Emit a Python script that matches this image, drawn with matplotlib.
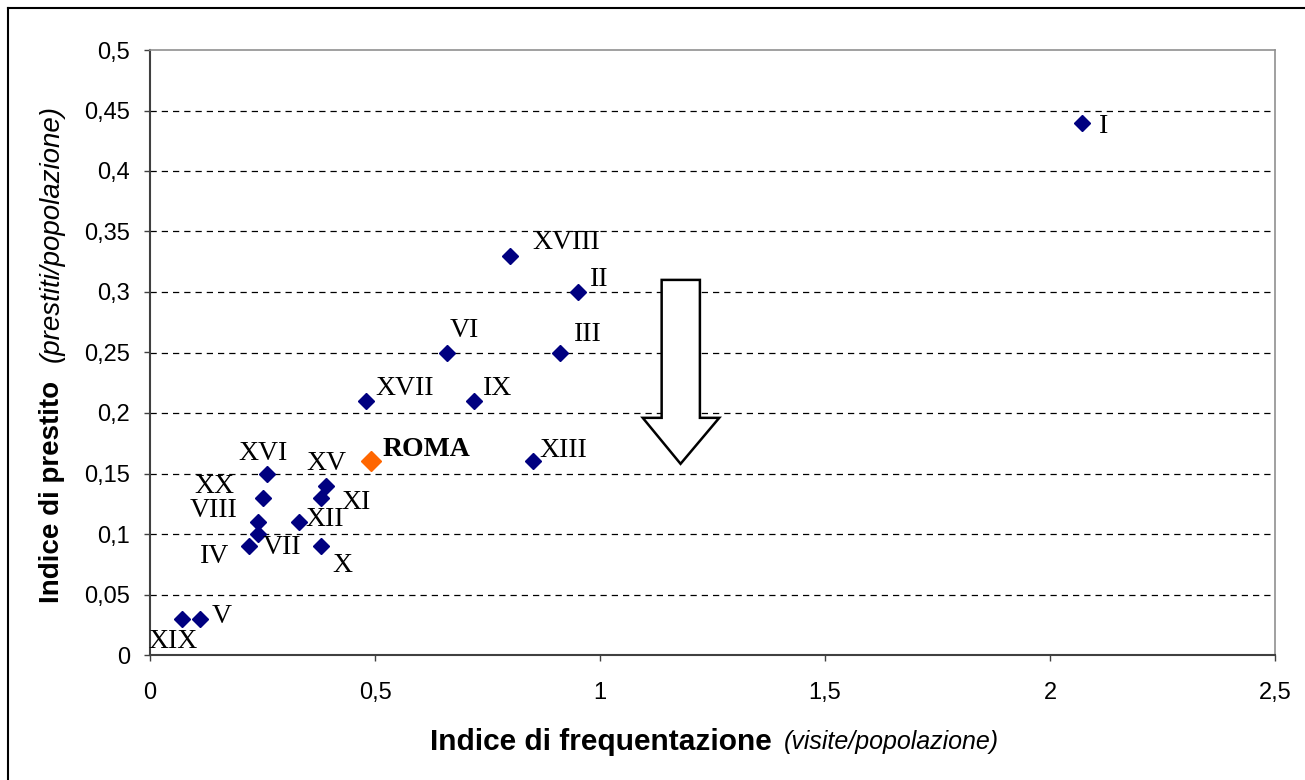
import matplotlib
matplotlib.use("Agg")
import matplotlib.pyplot as plt
from matplotlib.patches import Polygon
from matplotlib.lines import Line2D
from matplotlib.ticker import FuncFormatter, MultipleLocator

# --- Municipi di Roma: indice di frequentazione vs indice di prestito
labels = ["I", "II", "III", "IV", "V", "VI", "VII", "VIII", "IX", "X",
          "XI", "XII", "XIII", "XV", "XVI", "XVII", "XVIII", "XIX", "XX"]
frequentazione = [2.07, 0.95, 0.91, 0.22, 0.11, 0.66, 0.24, 0.24, 0.72, 0.38,
                  0.38, 0.33, 0.85, 0.39, 0.26, 0.48, 0.80, 0.07, 0.25]
prestito = [0.44, 0.30, 0.25, 0.09, 0.03, 0.25, 0.10, 0.11, 0.21, 0.09,
            0.13, 0.11, 0.16, 0.14, 0.15, 0.21, 0.33, 0.03, 0.13]
roma_x, roma_y = 0.49, 0.16

# label offsets in pixels (dx, dy) relative to the point
offsets = {"I": (22, -4), "II": (22, 13), "III": (28, 18), "IV": (-34, -10),
           "V": (22, 2), "VI": (17, 22), "VII": (24, -13), "VIII": (-44, 11),
           "IX": (24, 12), "X": (21, -19), "XI": (35, -5), "XII": (26, 2),
           "XIII": (31, 11), "XV": (1, 22), "XVI": (-4, 20), "XVII": (39, 12),
           "XVIII": (56, 13), "XIX": (-8, -23), "XX": (-48, 11)}

# block arrow outline (data units)
arrow_xy = [(1.137, 0.31), (1.222, 0.31), (1.222, 0.196), (1.265, 0.196),
            (1.179, 0.158), (1.095, 0.196), (1.137, 0.196)]

fig = plt.figure(figsize=(13.05, 7.8), dpi=100)
ax = fig.add_axes([150 / 1305, 125 / 780, 1125 / 1305, 605 / 780])

ax.set_xlim(0, 2.5)
ax.set_ylim(0, 0.5)
ax.xaxis.set_major_locator(MultipleLocator(0.5))
ax.yaxis.set_major_locator(MultipleLocator(0.05))
fmt = FuncFormatter(lambda v, p: f"{round(v, 2):g}".replace(".", ","))
ax.xaxis.set_major_formatter(fmt)
ax.yaxis.set_major_formatter(fmt)
ax.tick_params(axis="both", direction="out", length=4.5, width=1,
               color="#404040", labelsize=17)
ax.tick_params(axis="x", pad=15)
ax.tick_params(axis="y", pad=10)
for lab in ax.get_xticklabels() + ax.get_yticklabels():
    lab.set_fontfamily("Liberation Sans")

for y in [0.05 * i for i in range(1, 10)]:
    ax.axhline(y, color="black", lw=0.9, ls=(0, (5, 4)), zorder=0)

for s in ["left", "bottom"]:
    ax.spines[s].set_color("#404040")
    ax.spines[s].set_linewidth(1.5)
for s in ["top", "right"]:
    ax.spines[s].set_color("#909090")
    ax.spines[s].set_linewidth(1.2)

ax.add_patch(Polygon(arrow_xy, closed=True, facecolor="white",
                     edgecolor="black", lw=1.8, zorder=2))

ax.plot(frequentazione, prestito, ls="none", marker="D", ms=8.5,
        color="#000080", zorder=3)
ax.plot([roma_x], [roma_y], ls="none", marker="D", ms=10.5,
        color="#FF6600", zorder=3)

for lab, x, y in zip(labels, frequentazione, prestito):
    dx, dy = offsets[lab]
    ax.annotate(lab, (x, y), xytext=(dx, dy), textcoords="offset pixels",
                ha="center", va="center", fontsize=20,
                fontfamily="Liberation Serif", zorder=4)
ax.annotate("ROMA", (roma_x, roma_y), xytext=(56, 12),
            textcoords="offset pixels", ha="center", va="center",
            fontsize=20, fontweight="bold", fontfamily="Liberation Serif",
            zorder=4)

# axis titles: bold part + italic part
fig.text(430 / 1305, 1 - 742 / 780, "Indice di frequentazione", fontsize=21.5,
         fontweight="bold", fontfamily="Liberation Sans", ha="left", va="center")
fig.text(784 / 1305, 1 - 742 / 780, "(visite/popolazione)", fontsize=18,
         fontstyle="italic", fontfamily="Liberation Sans", ha="left", va="center")
fig.text(52 / 1305, 1 - 603 / 780, "Indice di prestito", fontsize=20,
         fontweight="bold", fontfamily="Liberation Sans", rotation=90,
         rotation_mode="anchor", ha="left", va="center")
fig.text(52 / 1305, 1 - 362 / 780, "(prestiti/popolazione)", fontsize=20,
         fontstyle="italic", fontfamily="Liberation Sans", rotation=90,
         rotation_mode="anchor", ha="left", va="center")

# outer frame (left and top edges)
fig.add_artist(Line2D([8 / 1305, 8 / 1305], [0, 1 - 8 / 780],
                      transform=fig.transFigure, color="black", lw=1.5))
fig.add_artist(Line2D([8 / 1305, 1], [1 - 8 / 780, 1 - 8 / 780],
                      transform=fig.transFigure, color="black", lw=1.5))

fig.savefig("out.png", dpi=100)
